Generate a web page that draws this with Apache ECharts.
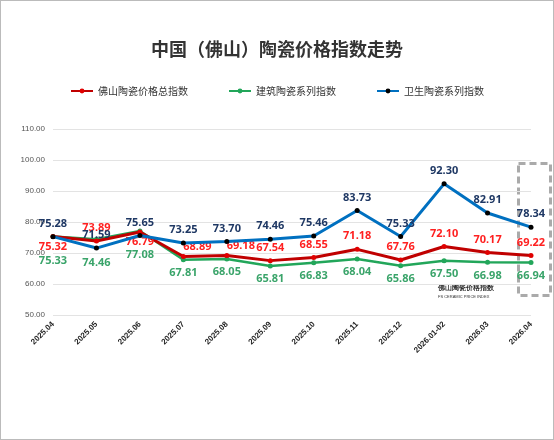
<!DOCTYPE html>
<html><head><meta charset="utf-8">
<script src="https://cdn.jsdelivr.net/npm/echarts@6/dist/echarts.min.js"></script>
<style>html,body{margin:0;padding:0;background:#fff}#c{width:554px;height:440px;box-sizing:border-box;border:1px solid #bbb}</style>
</head><body><div id="c"></div>
<script>
const months = ['2025.04','2025.05','2025.06','2025.07','2025.08','2025.09','2025.10','2025.11','2025.12','2026.01-02','2026.03','2026.04']
const totalIdx = [75.32,73.89,76.79,68.89,69.18,67.54,68.55,71.18,67.76,72.10,70.17,69.22]
const buildIdx = [75.33,74.46,77.08,67.81,68.05,65.81,66.83,68.04,65.86,67.50,66.98,66.94]
const sanIdx = [75.28,71.59,75.65,73.25,73.70,74.46,75.46,83.73,75.33,92.30,82.91,78.34]
// label placement tweaks for the crowded first months
const totalLbl = [{ position: 'bottom', distance: 2 }, { position: 'top' }, { position: 'bottom', distance: 2 }, { position: 'top', offset: [14, 3] }, { position: 'top', offset: [14, 3] }]
const buildLbl = [{ distance: 16 }, { distance: 16 }, { distance: 16 }]

const chart = echarts.init(document.getElementById('c'))
const lbl = (color, pos) => ({ show: true, position: pos, color: color, fontWeight: 'bold', fontSize: 11, fontFamily: 'Noto Sans', formatter: p => p.value.toFixed(2) })
chart.setOption({
  title: { text: '中国（佛山）陶瓷价格指数走势', left: 'center', top: 34, textStyle: { fontSize: 18, fontWeight: 'bold', color: '#333', fontFamily: 'Noto Sans CJK SC' } },
  legend: { top: 80, itemGap: 40, itemWidth: 22, itemHeight: 6, textStyle: { fontSize: 10, color: '#333', fontFamily: 'Noto Sans CJK SC' } },
  grid: { left: 52, right: 22, top: 128, bottom: 124 },
  xAxis: {
    type: 'category', data: months, boundaryGap: false,
    axisLine: { show: false }, axisTick: { show: false },
    axisLabel: { rotate: 45, fontSize: 8, fontWeight: 'bold', color: '#222', interval: 0, margin: 8 }
  },
  yAxis: {
    type: 'value', min: 50, max: 110, interval: 10,
    axisLabel: { fontSize: 8, color: '#555', formatter: v => v.toFixed(2) },
    splitLine: { lineStyle: { color: '#e3e3e3' } }
  },
  series: [
    { name: '佛山陶瓷价格总指数', type: 'line', symbol: 'circle', symbolSize: 5, color: '#e00000', lineStyle: { width: 3, color: '#c00000' }, z: 4,
      data: totalIdx.map((v, i) => ({ value: v, label: totalLbl[i] || {} })), label: lbl('#ff2020', 'top') },
    { name: '建筑陶瓷系列指数', type: 'line', symbol: 'circle', symbolSize: 5, color: '#22a65a', lineStyle: { width: 2.5 }, z: 3,
      data: buildIdx.map((v, i) => ({ value: v, label: buildLbl[i] || {} })), label: lbl('#3aa46a', 'bottom') },
    { name: '卫生陶瓷系列指数', type: 'line', data: sanIdx, symbol: 'circle', symbolSize: 5, itemStyle: { color: '#000' }, color: '#0070c0', lineStyle: { width: 3, color: '#0070c0' }, label: lbl('#1f3864', 'top'), z: 5 }
  ],
  graphic: [
    { type: 'rect', left: 515, top: 160, shape: { width: 32, height: 132 }, style: { fill: 'none', stroke: '#aaa', lineWidth: 3, lineDash: [7, 4] } },
    { type: 'text', left: 437, top: 284, style: { text: '佛山陶瓷价格指数', fontSize: 7, fontWeight: 'bold', fill: '#333' } },
    { type: 'text', left: 437, top: 294, style: { text: 'FS CERAMIC PRICE INDEX', fontSize: 4, fill: '#333' } }
  ]
})
</script></body></html>
